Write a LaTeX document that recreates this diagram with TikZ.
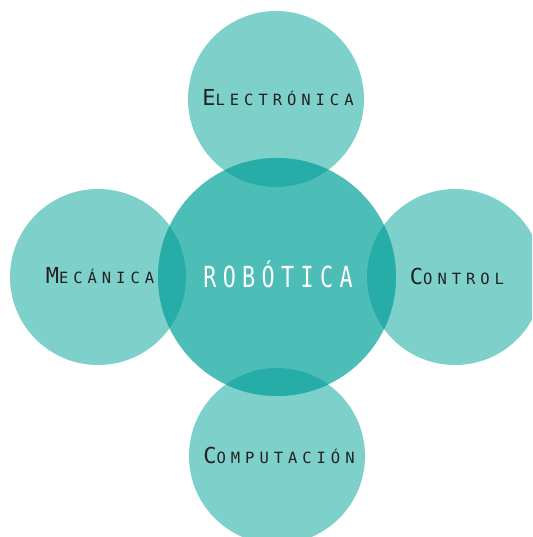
\documentclass[tikz,border=0pt]{standalone}
\usepackage{fontspec}
\newfontfamily\lblfont[LetterSpace=32]{DejaVu Sans Mono}
\newfontfamily\ctrfont[FakeStretch=0.75,LetterSpace=22]{DejaVu Sans Mono}
\definecolor{outerc}{HTML}{7ED0CA}
\definecolor{innerc}{HTML}{4DBDB7}
\definecolor{overc}{HTML}{27ADA8}
\definecolor{txtc}{HTML}{222222}
\newcommand{\bigL}[1]{{\fontsize{22}{22}\selectfont #1}}
\newcommand{\smL}[1]{{\fontsize{15.5}{15.5}\selectfont #1}}
\begin{document}
\begin{tikzpicture}[x=1pt,y=-1pt,
  outer/.style={circle,fill=outerc,minimum size=176pt,inner sep=0pt,text=txtc,font=\lblfont},
  inner/.style={circle,fill=innerc,minimum size=238pt,inner sep=0pt,text=white,font=\ctrfont\fontsize{29}{29}\selectfont}]
\useasboundingbox (0,0) rectangle (532,537);
\clip (0,0) rectangle (532,537);
\node[outer] (t) at (276,99) {};
\node[outer] (l) at (98,277) {};
\node[outer] (r) at (455,277) {};
\node[outer] (b) at (277,456) {};
\node[inner] (c) at (277,277) {};
\begin{scope}
  \clip (c.center) circle[radius=119pt];
  \foreach \n in {t,l,r,b} {\fill[overc] (\n.center) circle[radius=88pt];}
\end{scope}
\node[text=txtc,font=\lblfont] (tl) at (278,98) {\bigL{E}\smL{LECTRÓNICA}};
\node[text=txtc,font=\lblfont] (ll) at (100,276) {\bigL{M}\smL{ECÁNICA}};
\node[text=txtc,font=\lblfont] (rl) at (457,276) {\bigL{C}\smL{ONTROL}};
\node[text=txtc,font=\lblfont] (bl) at (279,455) {\bigL{C}\smL{OMPUTACIÓN}};
\node[text=white,font=\ctrfont\fontsize{29}{29}\selectfont] (cl) at (278,274) {ROBÓTICA};
\end{tikzpicture}
\end{document}
